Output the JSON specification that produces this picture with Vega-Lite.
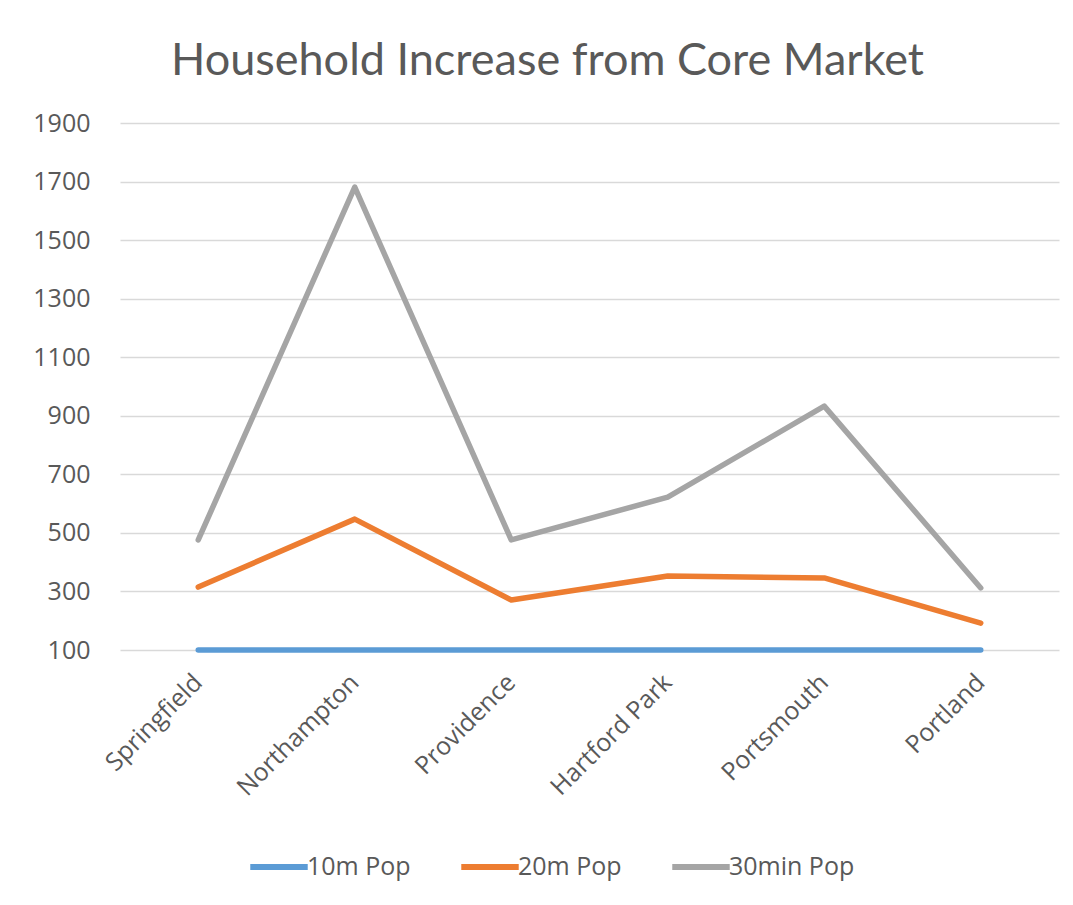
{
  "$schema": "https://vega.github.io/schema/vega-lite/v6.json",
  "width": 939,
  "height": 527,
  "autosize": {"type": "none"},
  "padding": {"left": 120, "top": 123, "right": 14, "bottom": 255},
  "background": "white",
  "title": {
    "text": "Household Increase from Core Market",
    "font": "Lato",
    "fontSize": 45,
    "fontWeight": "normal",
    "color": "#595959",
    "anchor": "middle",
    "dx": -42,
    "offset": 27
  },
  "data": {
    "values": [
      {"city": "Springfield", "series": "10m Pop", "value": 100},
      {"city": "Northampton", "series": "10m Pop", "value": 100},
      {"city": "Providence", "series": "10m Pop", "value": 100},
      {"city": "Hartford Park", "series": "10m Pop", "value": 100},
      {"city": "Portsmouth", "series": "10m Pop", "value": 100},
      {"city": "Portland", "series": "10m Pop", "value": 100},
      {"city": "Springfield", "series": "20m Pop", "value": 315},
      {"city": "Northampton", "series": "20m Pop", "value": 547},
      {"city": "Providence", "series": "20m Pop", "value": 271},
      {"city": "Hartford Park", "series": "20m Pop", "value": 353},
      {"city": "Portsmouth", "series": "20m Pop", "value": 346},
      {"city": "Portland", "series": "20m Pop", "value": 192},
      {"city": "Springfield", "series": "30min Pop", "value": 476},
      {"city": "Northampton", "series": "30min Pop", "value": 1681},
      {"city": "Providence", "series": "30min Pop", "value": 476},
      {"city": "Hartford Park", "series": "30min Pop", "value": 622},
      {"city": "Portsmouth", "series": "30min Pop", "value": 933},
      {"city": "Portland", "series": "30min Pop", "value": 312}
    ]
  },
  "mark": {"type": "line", "strokeWidth": 5.5, "strokeCap": "round", "strokeJoin": "round"},
  "encoding": {
    "x": {
      "field": "city",
      "type": "nominal",
      "sort": null,
      "scale": {"type": "band", "paddingInner": 0, "paddingOuter": 0},
      "axis": {
        "title": null,
        "labelAngle": -45,
        "labelAlign": "right",
        "labelBaseline": "middle",
        "labelFont": "Open Sans",
        "labelFontSize": 25,
        "labelColor": "#595959",
        "labelPadding": 28,
        "ticks": false,
        "domain": false,
        "grid": false
      }
    },
    "y": {
      "field": "value",
      "type": "quantitative",
      "scale": {"domain": [100, 1900], "nice": false, "zero": false},
      "axis": {
        "title": null,
        "format": "d",
        "values": [100, 300, 500, 700, 900, 1100, 1300, 1500, 1700, 1900],
        "labelFont": "Open Sans",
        "labelFontSize": 25,
        "labelColor": "#595959",
        "labelPadding": 30,
        "ticks": false,
        "domain": false,
        "grid": true,
        "gridColor": "#D9D9D9",
        "gridWidth": 1.5
      }
    },
    "color": {
      "field": "series",
      "type": "nominal",
      "scale": {"domain": ["10m Pop", "20m Pop", "30min Pop"], "range": ["#5B9BD5", "#ED7D31", "#A5A5A5"]},
      "legend": {
        "title": null,
        "orient": "none",
        "direction": "horizontal",
        "legendX": 127,
        "legendY": 712,
        "symbolType": "stroke",
        "symbolSize": 3300,
        "symbolStrokeWidth": 6,
        "labelFont": "Open Sans",
        "labelFontSize": 25,
        "labelColor": "#595959",
        "labelOffset": -4,
        "columnPadding": 38
      }
    }
  },
  "config": {"view": {"stroke": null}}
}
